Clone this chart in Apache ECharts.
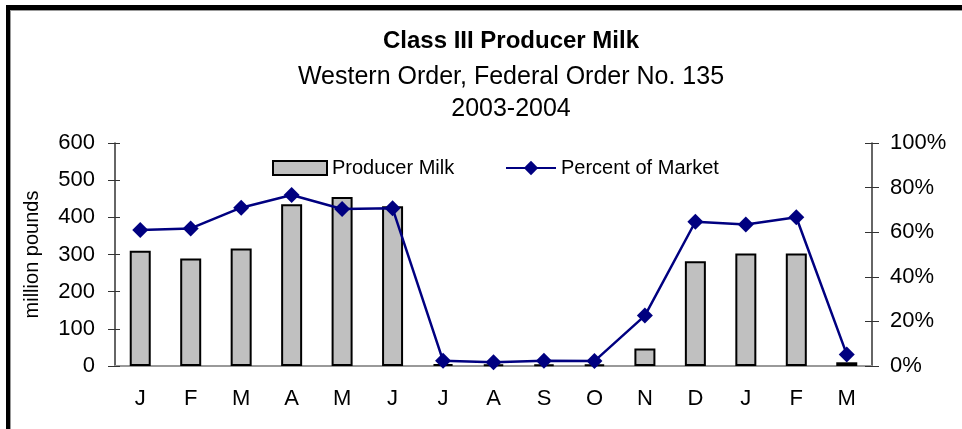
<!DOCTYPE html>
<html>
<head>
<meta charset="utf-8">
<script src="https://cdn.jsdelivr.net/npm/echarts@6/dist/echarts.min.js"></script>
<style>
  html, body { margin: 0; padding: 0; background: #fff; }
  #chart { width: 962px; height: 429px; }
</style>
</head>
<body>
<div id="chart"></div>
<script>
// months Jan 2003 .. Mar 2004
var months = ['J', 'F', 'M', 'A', 'M', 'J', 'J', 'A', 'S', 'O', 'N', 'D', 'J', 'F', 'M'];
// million pounds
var producerMilk = [310, 289, 316, 435, 455, 430, 5, 4, 4, 4, 47, 282, 303, 303, 10];
// percent of market
var percentOfMarket = [61, 61.7, 71, 76.7, 70.4, 70.7, 2.4, 1.7, 2.4, 2.2, 22.6, 64.7, 63.5, 66.7, 5.2];
var leftTicks = [0, 100, 200, 300, 400, 500, 600];
var rightTicks = [0, 20, 40, 60, 80, 100];

var font = 'Liberation Sans, Arial, sans-serif';
var axisColor = '#333';

var chart = echarts.init(document.getElementById('chart'));

chart.setOption({
	animation: false,
	backgroundColor: '#fff',
	title: {
		left: 506,
		top: 24,
		textAlign: 'center',
		itemGap: 8,
		text: 'Class III Producer Milk',
		subtext: 'Western Order, Federal Order No. 135\n2003-2004',
		textStyle: { fontFamily: font, fontSize: 24, fontWeight: 'bold', color: '#000' },
		subtextStyle: { fontFamily: font, fontSize: 25, color: '#000', lineHeight: 32 }
	},
	legend: [
		{
			left: 267,
			top: 153,
			itemWidth: 54,
			itemHeight: 14,
			textStyle: { fontFamily: font, fontSize: 20, color: '#000' },
			data: [{ name: 'Producer Milk', icon: 'rect' }]
		},
		{
			left: 500,
			top: 153,
			itemWidth: 50,
			itemHeight: 18,
			textStyle: { fontFamily: font, fontSize: 20, color: '#000' },
			data: ['Percent of Market']
		}
	],
	grid: { left: 115, right: 90, top: 143, bottom: 63 },
	graphic: [
		// outer frame
		{ type: 'rect', shape: { x: 6, y: 5, width: 956, height: 5 }, style: { fill: '#000' } },
		{ type: 'rect', shape: { x: 6, y: 5, width: 4, height: 424 }, style: { fill: '#000' } },
		{ type: 'rect', shape: { x: 10, y: 10, width: 952, height: 1 }, style: { fill: '#999' } },
		{ type: 'rect', shape: { x: 10, y: 10, width: 1, height: 419 }, style: { fill: '#999' } }
	],
	xAxis: [
		{
			type: 'category',
			data: months,
			position: 'bottom',
			axisLine: { lineStyle: { color: axisColor, width: 1.5 } },
			axisTick: { length: 7, lineStyle: { color: axisColor } },
			axisLabel: { fontFamily: font, fontSize: 22, color: '#000', margin: 22 }
		},
		{
			// inner half of the crossing ticks
			type: 'category',
			data: months,
			position: 'bottom',
			axisLine: { show: false },
			axisTick: { inside: true, length: 6, lineStyle: { color: axisColor } },
			axisLabel: { show: false }
		},
		{
			// top border of the plot
			type: 'category',
			data: months,
			position: 'top',
			axisLine: { lineStyle: { color: '#999', width: 2 } },
			axisTick: { show: false },
			axisLabel: { show: false }
		}
	],
	yAxis: [
		{
			type: 'value',
			min: 0,
			max: 600,
			interval: 100,
			position: 'left',
			name: 'million pounds',
			nameLocation: 'middle',
			nameGap: 73,
			nameTextStyle: { fontFamily: font, fontSize: 20, color: '#000' },
			axisLine: { show: true, lineStyle: { color: axisColor, width: 1.5 } },
			axisTick: { show: true, length: 7, lineStyle: { color: axisColor } },
			splitLine: { show: false },
			axisLabel: {
				fontFamily: font, fontSize: 22, color: '#000', margin: 20,
				customValues: leftTicks
			}
		},
		{
			type: 'value',
			min: 0,
			max: 100,
			interval: 20,
			position: 'right',
			axisLine: { show: true, lineStyle: { color: axisColor, width: 1.5 } },
			axisTick: { show: true, length: 7, lineStyle: { color: axisColor } },
			splitLine: { show: false },
			axisLabel: {
				fontFamily: font, fontSize: 22, color: '#000', margin: 18,
				formatter: '{value}%',
				customValues: rightTicks
			}
		},
		{
			// inner half of the right crossing ticks
			type: 'value',
			min: 0,
			max: 100,
			interval: 20,
			position: 'right',
			axisLine: { show: false },
			axisTick: { show: true, inside: true, length: 7, lineStyle: { color: axisColor } },
			splitLine: { show: false },
			axisLabel: { show: false }
		},
		{
			// inner half of the left crossing ticks
			type: 'value',
			min: 0,
			max: 600,
			interval: 100,
			position: 'left',
			axisLine: { show: false },
			axisTick: { show: true, inside: true, length: 5, lineStyle: { color: axisColor } },
			splitLine: { show: false },
			axisLabel: { show: false }
		}
	],
	series: [
		{
			name: 'Producer Milk',
			type: 'bar',
			data: producerMilk,
			barWidth: 21,
			itemStyle: { color: '#c0c0c0', borderColor: '#000', borderWidth: 2 }
		},
		{
			name: 'Percent of Market',
			type: 'line',
			yAxisIndex: 1,
			data: percentOfMarket,
			symbol: 'diamond',
			symbolSize: 16,
			lineStyle: { color: '#000080', width: 2.5 },
			itemStyle: { color: '#000080' }
		}
	]
});
</script>
</body>
</html>
